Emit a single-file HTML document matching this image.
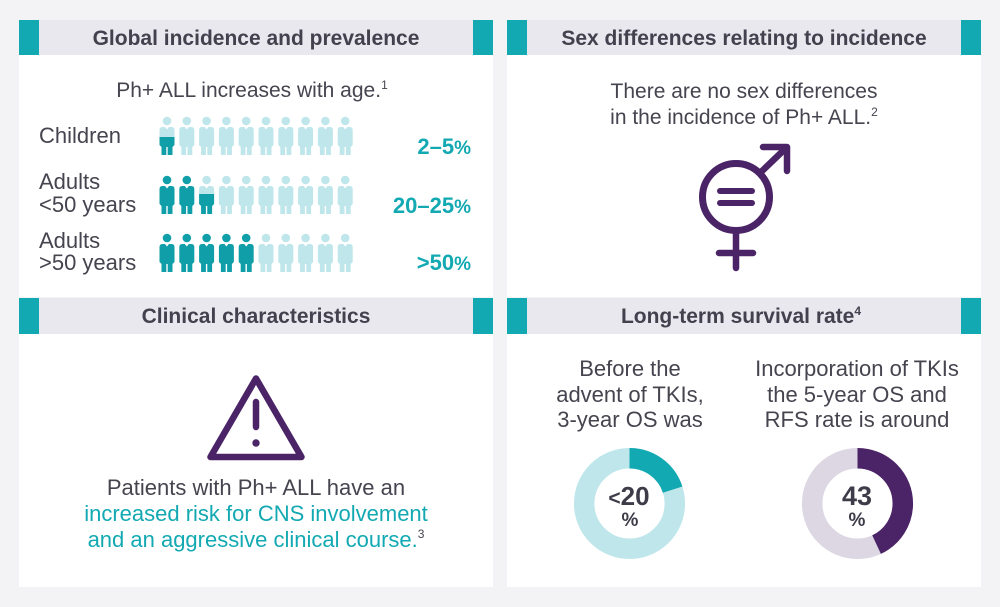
<!DOCTYPE html>
<html><head><meta charset="utf-8"><style>
html,body{margin:0;padding:0;background:#f3f3f5;}
svg{display:block;}
text{font-family:"Liberation Sans",sans-serif;}
</style></head><body>
<svg width="1000" height="607" viewBox="0 0 1000 607" xmlns="http://www.w3.org/2000/svg">
<defs>
<path id="pb" d="M-7.5,9 Q-7.5,6 -4.5,6 L-2,6 L0,8.5 L2,6 L4.5,6 Q7.5,6 7.5,9 L7.5,24 L5.5,26 L5.5,34 L0.7,34 L0.7,26 L-0.7,26 L-0.7,34 L-5.5,34 L-5.5,26 L-7.5,24 Z"/>
<g id="p"><circle cx="0" cy="0" r="4.3"/><use href="#pb"/></g>
<clipPath id="c1"><rect x="-10" y="16" width="20" height="30"/></clipPath>
<clipPath id="c2"><rect x="-10" y="14" width="20" height="30"/></clipPath>
</defs>
<rect width="1000" height="607" fill="#f3f3f5"/>
<!-- panels -->
<rect x="19" y="20" width="474" height="277" fill="#fff"/>
<rect x="507" y="20" width="474" height="277" fill="#fff"/>
<rect x="19" y="298" width="474" height="289" fill="#fff"/>
<rect x="507" y="298" width="474" height="289" fill="#fff"/>
<!-- headers -->
<g fill="#e9e8ef"><rect x="19" y="20" width="474" height="35"/><rect x="507" y="20" width="474" height="35"/><rect x="19" y="298" width="474" height="36"/><rect x="507" y="298" width="474" height="36"/></g>
<g fill="#13a9b2">
<rect x="19" y="20" width="20" height="35"/><rect x="473" y="20" width="20" height="35"/>
<rect x="507" y="20" width="20" height="35"/><rect x="961" y="20" width="20" height="35"/>
<rect x="19" y="298" width="20" height="36"/><rect x="473" y="298" width="20" height="36"/>
<rect x="507" y="298" width="20" height="36"/><rect x="961" y="298" width="20" height="36"/>
</g>
<g font-weight="bold" font-size="21" fill="#43414d" text-anchor="middle">
<text x="256" y="45">Global incidence and prevalence</text>
<text x="744" y="45">Sex differences relating to incidence</text>
<text x="256" y="323">Clinical characteristics</text>
<text x="741" y="323">Long-term survival rate<tspan font-size="12" dy="-8">4</tspan></text>
</g>
<!-- top-left -->
<g fill="#45444f" font-size="21">
<text x="252" y="97" text-anchor="middle">Ph+ ALL increases with age.<tspan font-size="12" dy="-8">1</tspan></text>
<text x="39" y="143" font-size="22">Children</text>
<text x="39" y="189" font-size="22">Adults</text>
<text x="39" y="212" font-size="22">&lt;50 years</text>
<text x="39" y="248" font-size="22">Adults</text>
<text x="39" y="270" font-size="22">&gt;50 years</text>
</g>
<g font-weight="bold" font-size="22" fill="#13a9b2" text-anchor="end">
<text x="471" y="154">2–5<tspan font-size="19">%</tspan></text>
<text x="471" y="213">20–25<tspan font-size="19">%</tspan></text>
<text x="471" y="270">&gt;50<tspan font-size="19">%</tspan></text>
</g>
<!-- people row 1 -->
<g fill="#bfe6ea">
<use href="#p" x="167" y="121"/><use href="#p" x="186.8" y="121"/><use href="#p" x="206.6" y="121"/><use href="#p" x="226.4" y="121"/><use href="#p" x="246.2" y="121"/><use href="#p" x="266" y="121"/><use href="#p" x="285.8" y="121"/><use href="#p" x="305.6" y="121"/><use href="#p" x="325.4" y="121"/><use href="#p" x="345.2" y="121"/>
<use href="#p" x="206.6" y="180"/><use href="#p" x="226.4" y="180"/><use href="#p" x="246.2" y="180"/><use href="#p" x="266" y="180"/><use href="#p" x="285.8" y="180"/><use href="#p" x="305.6" y="180"/><use href="#p" x="325.4" y="180"/><use href="#p" x="345.2" y="180"/>
<use href="#p" x="266" y="238"/><use href="#p" x="285.8" y="238"/><use href="#p" x="305.6" y="238"/><use href="#p" x="325.4" y="238"/><use href="#p" x="345.2" y="238"/>
</g>
<g fill="#109fa9">
<g transform="translate(167,121)"><use href="#p" clip-path="url(#c1)"/></g>
<use href="#p" x="167" y="180"/><use href="#p" x="186.8" y="180"/>
<g transform="translate(206.6,180)"><use href="#p" clip-path="url(#c2)"/></g>
<use href="#p" x="167" y="238"/><use href="#p" x="186.8" y="238"/><use href="#p" x="206.6" y="238"/><use href="#p" x="226.4" y="238"/><use href="#p" x="246.2" y="238"/>
</g>
<!-- top-right -->
<g fill="#45444f" font-size="21" text-anchor="middle">
<text x="744" y="98">There are no sex differences</text>
<text x="744" y="124">in the incidence of Ph+ ALL.<tspan font-size="12" dy="-8">2</tspan></text>
</g>
<g stroke="#4a2466" fill="none" stroke-linecap="round" stroke-linejoin="round">
<circle cx="736" cy="197" r="33.5" stroke-width="7"/>
<line x1="720" y1="191" x2="752" y2="191" stroke-width="6"/>
<line x1="720" y1="203" x2="752" y2="203" stroke-width="6"/>
<line x1="736" y1="232" x2="736" y2="268" stroke-width="6.5"/>
<line x1="719" y1="253" x2="753" y2="253" stroke-width="6.5"/>
<line x1="761" y1="172" x2="786" y2="148" stroke-width="6.5"/>
<polyline points="763,147 787,147 787,171" stroke-width="6.5"/>
</g>
<!-- bottom-left -->
<g stroke="#4a2466" fill="none" stroke-linecap="round" stroke-linejoin="round">
<path d="M256,378.5 L210.5,457 L301.5,457 Z" stroke-width="6.5"/>
<line x1="256" y1="402" x2="256" y2="427" stroke-width="6.5"/>
</g>
<circle cx="256" cy="443" r="3.7" fill="#4a2466"/>
<g font-size="22" text-anchor="middle">
<text x="256" y="495" fill="#45444f">Patients with Ph+ ALL have an</text>
<text x="256" y="521" fill="#13a9b2">increased risk for CNS involvement</text>
<text x="256" y="547" fill="#13a9b2">and an aggressive clinical course.<tspan font-size="12" dy="-9" fill="#45444f">3</tspan></text>
</g>
<!-- bottom-right -->
<g font-size="22" text-anchor="middle" fill="#45444f">
<text x="630" y="376">Before the</text>
<text x="630" y="402">advent of TKIs,</text>
<text x="630" y="427">3-year OS was</text>
<text x="857" y="376">Incorporation of TKIs</text>
<text x="857" y="402">the 5-year OS and</text>
<text x="857" y="427">RFS rate is around</text>
</g>
<g fill="none" stroke-width="20.5">
<circle cx="629.5" cy="503.5" r="45.3" stroke="#bfe7eb"/>
<circle cx="629.5" cy="503.5" r="45.3" stroke="#13a9b2" stroke-dasharray="56.9 300" transform="rotate(-90 629.5 503.5)"/>
<circle cx="857.5" cy="503.5" r="45.3" stroke="#dcd7e3"/>
<circle cx="857.5" cy="503.5" r="45.3" stroke="#4a2466" stroke-dasharray="122.4 300" transform="rotate(-90 857.5 503.5)"/>
</g>
<g font-weight="bold" fill="#3e3c48" text-anchor="middle">
<text x="629" y="505" font-size="26"><tspan font-size="21">&lt;</tspan>20</text>
<text x="630" y="526" font-size="19">%</text>
<text x="857" y="505" font-size="27">43</text>
<text x="857" y="526" font-size="19">%</text>
</g>
</svg>
</body></html>
